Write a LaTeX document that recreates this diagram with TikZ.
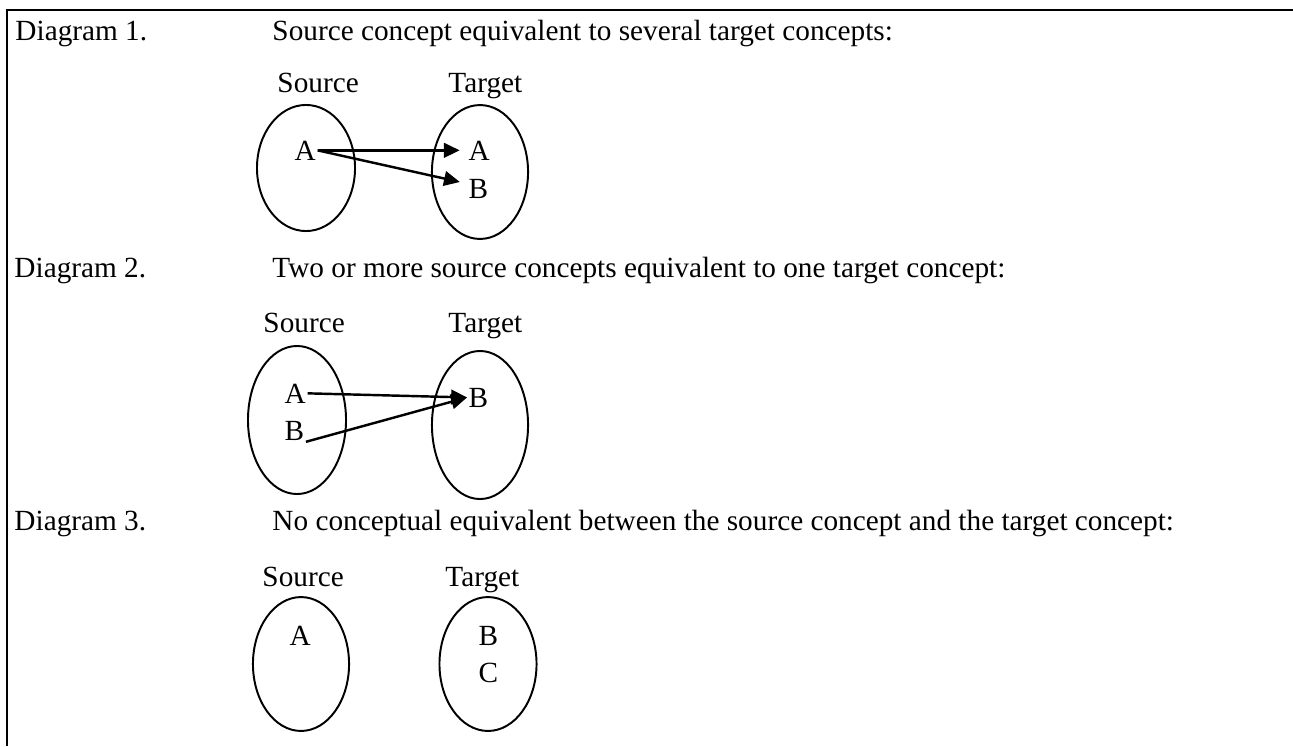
\documentclass[tikz,border=0pt]{standalone}
\usepackage{fontspec}
\setmainfont{Liberation Serif}
\usetikzlibrary{arrows.meta,shapes.geometric}

\begin{document}
\begin{tikzpicture}[
    x=0.41pt, y=-0.41pt,
    every node/.style={font=\fontsize{12pt}{14pt}\selectfont},
    lbl/.style={anchor=base west, inner sep=0pt},
    elt/.style={anchor=base west, inner sep=0.5pt},
    set/.style={draw, ellipse, line width=0.8pt, inner sep=0pt},
    map/.style={line width=1pt, -{Triangle[length=6.5pt,width=6pt]}}
  ]
    \useasboundingbox (0,0) rectangle (1293,746);
    \draw[line width=0.8pt] (1293,10) -- (7,10) -- (7,746);

    % diagram 1
    \node[lbl] (d1)  at (15,40)  {Diagram 1.};
    \node[lbl] (h1)  at (272,40) {Source concept equivalent to several target concepts:};
    \node[lbl] (s1)  at (277,92) {Source};
    \node[lbl] (t1)  at (448,92) {Target};
    \node[set, minimum width=40.2pt, minimum height=51.7pt] (S1) at (306,168) {};
    \node[set, minimum width=39.4pt, minimum height=54.9pt] (T1) at (480,172) {};
    \node[elt] (sA1) at (293,160) {A};
    \node[elt] (tA1) at (467,160) {A};
    \node[elt] (tB1) at (467,198) {B};
    \draw[map, shorten >=3pt] (sA1.east) -- (tA1.west);
    \draw[map, shorten >=3pt] (sA1.east) -- ([yshift=2pt]tB1.west);

    % diagram 2
    \node[lbl] (d2)  at (14,277)  {Diagram 2.};
    \node[lbl] (h2)  at (272,277) {Two or more source concepts equivalent to one target concept:};
    \node[lbl] (s2)  at (263,332) {Source};
    \node[lbl] (t2)  at (448,332) {Target};
    \node[set, minimum width=40.2pt, minimum height=60.7pt] (S2) at (297,420) {};
    \node[set, minimum width=39.4pt, minimum height=60.7pt] (T2) at (480,425) {};
    \node[elt] (sA2) at (283,403) {A};
    \node[elt] (sB2) at (283,440) {B};
    \node[elt] (tB2) at (467,407) {B};
    \draw[map] (sA2.east) -- (tB2.west);
    \draw[map] (sB2.south east) -- (tB2.west);

    % diagram 3
    \node[lbl] (d3)  at (14,530)  {Diagram 3.};
    \node[lbl] (h3)  at (272,530) {No conceptual equivalent between the source concept and the target concept:};
    \node[lbl] (s3)  at (262,586) {Source};
    \node[lbl] (t3)  at (445,586) {Target};
    \node[set, minimum width=39.4pt, minimum height=54.9pt] (S3) at (301,664) {};
    \node[set, minimum width=39.8pt, minimum height=54.9pt] (T3) at (488,664) {};
    \node[elt] (sA3) at (288,645) {A};
    \node[elt] (tB3) at (477,645) {B};
    \node[elt] (tC3) at (477,682) {C};
\end{tikzpicture}
\end{document}
